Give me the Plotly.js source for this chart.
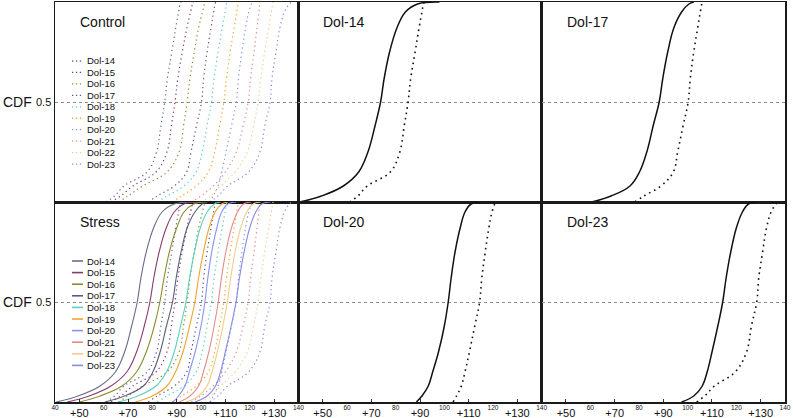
<!DOCTYPE html>
<html><head><meta charset="utf-8">
<script src="https://cdn.plot.ly/plotly-3.0.1.min.js"></script>
<style>html,body{margin:0;padding:0;background:#fff}#chart{width:793px;height:418px}</style>
</head><body><div id="chart"></div>
<script>
// ---------- data ----------
const lineNames = ['Dol-14','Dol-15','Dol-16','Dol-17','Dol-18','Dol-19','Dol-20','Dol-21','Dol-22','Dol-23'];
const lineColors = ['#6a6a8c','#8a3a6e','#8c8c2c','#5c5c7c','#5ccfc0','#f0a42c','#8494f2','#e88a8a','#f2cc8c','#8a8ae0'];
const cdfLevels = [0,0.03,0.08,0.15,0.25,0.38,0.5,0.62,0.75,0.87,0.95,0.99,1];

// Control (x value at each CDF level)
const ctrl14 = [61,64.5,68.3,77.8,81.7,83.5,85.1,86.2,88.0,89.6,90.8,91.4,91.8];
const ctrl15 = [63,67,72,81.5,86,87.8,89.3,90.5,92.3,94.2,95.7,96.5,96.8];
const ctrl16 = [66,70,76,86,91,92.8,94.3,95.5,97.2,99,100.6,101.4,101.6];
const ctrl17 = [78.3,82,89,94.1,95.9,98.1,100.2,101.1,102.5,104.1,105.2,105.8,106.1];
const ctrl18 = [82,86,93,98,100.5,102.5,104.3,105.4,107,108.7,109.9,110.4,110.5];
const ctrl19 = [88,92,98,103,105.6,107.6,109.4,110.5,112,113.6,114.7,115.2,115.3];
const ctrl20 = [103.6,105,107,108.5,110.3,112.5,114.5,115.4,116.8,118.3,119.6,120.7,121];
const ctrl21 = [96,100,105,110,114.5,117.3,119.4,120.4,121.8,123,123.8,124.1,124.2];
const ctrl22 = [100,104,108,114,119,121.6,123.5,124.6,126.2,127.8,128.9,129.5,129.6];
const ctrl23 = [103.7,107,111,119.5,124.2,126.2,128.4,129.2,130.8,132.4,134.3,136.3,137.2];

// Stress
const str14 = [40.5,49.5,58.5,64.8,68.6,71.5,73.8,75.3,77.5,80.5,84,89,98];
const str15 = [45,54,63,69.5,73.5,76.7,79.0,80.6,82.8,85.7,89,93,100];
const str16 = [50,58.5,67.5,73.5,77.5,80.8,83.1,84.8,87,90,93,97,101];
const str17 = [60.5,68.5,76.3,80.2,83.2,85.8,88.3,89.8,91.8,94.3,97.5,100.5,102.5];
const str18 = [66,74,81.5,85.8,89,91.6,93.8,95.3,97.3,99.7,102.5,105.5,108];
const str19 = [73,80,86,89.5,92.6,95.3,97.5,99,101,103.3,105.8,108.5,111];
const str20 = [88.5,90.8,93.4,95.2,97.6,100,101.6,102.8,104.4,106.5,108.5,111,114.5];
const str21 = [91,95.5,99,101,103.2,105.4,107.1,108.4,110.2,112.5,115,117.5,120.5];
const str22 = [94,99,102.5,104.5,106.7,109,110.8,112.2,114,116.3,118.8,121.5,124.5];
const str23 = [97.5,102.5,106,108,110,112.4,114.4,115.8,117.7,120,122.5,125,128.5];

const bigTickVals = [50,70,90,110,130];
const bigTickText = ['+50','+70','+90','+110','+130'];
const smallTickValsFirst = [40,60,80,100,120,140];
const smallTickValsOther = [60,80,100,120,140];

// ---------- build ----------
const controlSeries = [ctrl14,ctrl15,ctrl16,ctrl17,ctrl18,ctrl19,ctrl20,ctrl21,ctrl22,ctrl23];
const stressSeries = [str14,str15,str16,str17,str18,str19,str20,str21,str22,str23];
const FONT = 'Liberation Sans, Arial, sans-serif';
const traces = [];
function add(xs, xa, ya, color, width, dash){
  traces.push({type:'scatter', mode:'lines', x:xs, y:cdfLevels, xaxis:xa, yaxis:ya,
    line:{color:color, width:width, dash:dash, shape:'spline', smoothing:1.1},
    showlegend:false, hoverinfo:'skip'});
}
// Control panel
controlSeries.forEach((s,i)=>add(s,'x','y',lineColors[i],1.2,'1.3px,3.2px'));
// Stress panel: control dotted + stress solid
controlSeries.forEach((s,i)=>add(s,'x4','y4',lineColors[i],1.2,'1.3px,3.2px'));
stressSeries.forEach((s,i)=>add(s,'x4','y4',lineColors[i],1.1,'solid'));
// Single-line panels
const singles = [[0,'x2','y2'],[3,'x3','y3'],[6,'x5','y5'],[9,'x6','y6']];
singles.forEach(([idx,xa,ya])=>{
  add(stressSeries[idx],xa,ya,'#111',1.5,'solid');
  add(controlSeries[idx],xa,ya,'#111',1.6,'1.6px,4px');
});
// empty carriers so the secondary (small-label) axes are drawn
[['x7','y4'],['x8','y5'],['x9','y6']].forEach(([xa,ya])=>traces.push({type:'scatter',mode:'lines',x:[null],y:[null],
  xaxis:xa,yaxis:ya,showlegend:false,hoverinfo:'skip'}));

const cols = [[0,1/3],[1/3,2/3],[2/3,1]];
function xax(col, anchor, extra){
  return Object.assign({domain:cols[col], anchor:anchor, range:[40,140], showgrid:false, zeroline:false,
    showline:true, mirror:true, linecolor:'#1a1a1a', linewidth:1.5, ticks:'', showticklabels:false, fixedrange:true}, extra||{});
}
function yax(row, anchor, left){
  return {domain: row===0?[0.5,1]:[0,0.5], anchor:anchor, range:[0,1], showgrid:true, gridcolor:'#8a8a8a',
    griddash:'dot', gridwidth:1, tickvals:[0.5], ticktext:['0.5'], zeroline:false, showline:true, mirror:true,
    linecolor:'#1a1a1a', linewidth:1.5, ticks:'', showticklabels:left, tickfont:{family:FONT,size:11,color:'#111'}, fixedrange:true};
}
const bigAxis = {showticklabels:true, tickvals:bigTickVals, ticktext:bigTickText, tickfont:{family:FONT,size:11,color:'#111'},
  ticks:'inside', ticklen:3, tickwidth:1, tickcolor:'#333'};
function smallAxis(col, over, anchor, vals){
  return {domain:cols[col], overlaying:over, anchor:anchor, range:[40,140], showgrid:false, zeroline:false, showline:false,
    ticks:'', tickvals:vals, ticktext:vals.map(String), showticklabels:true, tickfont:{family:FONT,size:6.5,color:'#111'}, fixedrange:true};
}

const annotations = [];
const shapes = [];
// CDF labels
[0.75,0.25].forEach(y=>annotations.push({xref:'paper',yref:'paper',x:-0.0507,y:y,text:'CDF',showarrow:false,
  xanchor:'center',yanchor:'middle',font:{family:FONT,size:14,color:'#111'}}));
// panel titles
const titles = [['Control','x','y'],['Dol-14','x2','y2'],['Dol-17','x3','y3'],['Stress','x4','y4'],['Dol-20','x5','y5'],['Dol-23','x6','y6']];
titles.forEach(([t,xa,ya])=>annotations.push({xref:xa+' domain',yref:ya+' domain',x:0.094,y:0.9,text:t,showarrow:false,
  xanchor:'left',yanchor:'middle',font:{family:FONT,size:14,color:'#111'}}));
// legends
const W = 730, H = 400, L = 55, T = 2;
function legend(startPy, step, dash){
  lineNames.forEach((n,i)=>{
    const py = startPy + i*step;
    const yp = 1 - (py - T)/H;
    shapes.push({type:'line',xref:'paper',yref:'paper',x0:(72-L)/W,x1:(83-L)/W,y0:yp,y1:yp,
      line:{color:lineColors[i],width:dash==='solid'?1.6:1.3,dash:dash}});
    annotations.push({xref:'paper',yref:'paper',x:(84.5-L)/W,y:yp,text:n,showarrow:false,xanchor:'left',yanchor:'middle',
      font:{family:FONT,size:9.5,color:'#111'}});
  });
}
legend(61, 11.45, '1.3px,2.6px');
legend(261, 11.6, 'solid');

const layout = {
  width:793, height:418, margin:{l:55,r:8,t:2,b:16}, paper_bgcolor:'#fff', plot_bgcolor:'#fff',
  showlegend:false, font:{family:FONT},
  xaxis:xax(0,'y'), xaxis2:xax(1,'y2'), xaxis3:xax(2,'y3'),
  xaxis4:xax(0,'y4',bigAxis), xaxis5:xax(1,'y5',bigAxis), xaxis6:xax(2,'y6',bigAxis),
  xaxis7:smallAxis(0,'x4','y4',smallTickValsFirst), xaxis8:smallAxis(1,'x5','y5',smallTickValsOther), xaxis9:smallAxis(2,'x6','y6',smallTickValsOther),
  yaxis:yax(0,'x',true), yaxis2:yax(0,'x2',false), yaxis3:yax(0,'x3',false),
  yaxis4:yax(1,'x4',true), yaxis5:yax(1,'x5',false), yaxis6:yax(1,'x6',false),
  annotations:annotations, shapes:shapes
};
Plotly.newPlot('chart', traces, layout, {staticPlot:true, displayModeBar:false});
</script></body></html>
